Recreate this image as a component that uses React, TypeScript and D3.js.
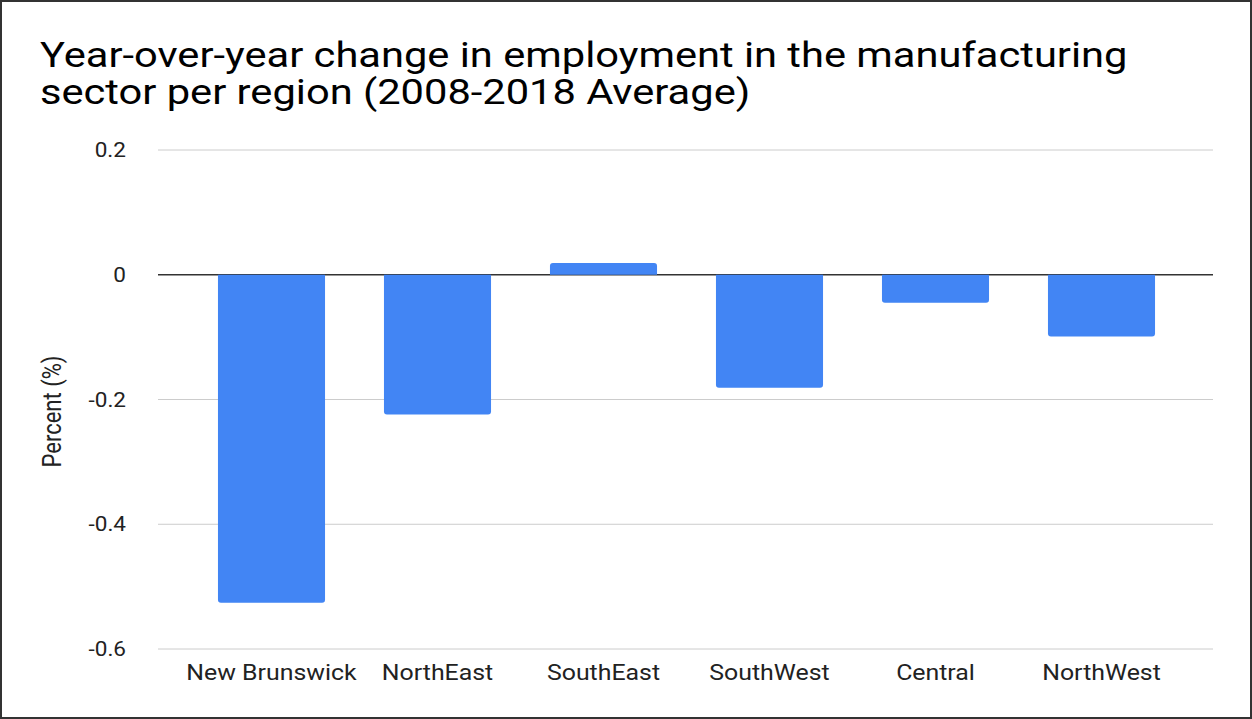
import React from "react";
import * as d3 from "d3";

const categories = ["New Brunswick", "NorthEast", "SouthEast", "SouthWest", "Central", "NorthWest"];
const values = [-0.526, -0.224, 0.019, -0.181, -0.045, -0.099];
const yTicks = [0.2, 0, -0.2, -0.4, -0.6];
const titleLines = [
  "Year-over-year change in employment in the manufacturing",
  "sector per region (2008-2018 Average)",
];
const yAxisTitle = "Percent (%)";

const W = 1252;
const H = 719;
const SX = 1.157; // horizontal stretch of the glyphs in the reference

function barPath(x: number, y0: number, y1: number, w: number, r: number) {
  const dir = y1 < y0 ? -1 : 1;
  const len = Math.abs(y1 - y0);
  const rr = Math.min(r, len / 2, w / 2);
  const p = d3.path();
  p.moveTo(x, y0);
  p.lineTo(x, y1 - dir * rr);
  p.quadraticCurveTo(x, y1, x + rr, y1);
  p.lineTo(x + w - rr, y1);
  p.quadraticCurveTo(x + w, y1, x + w, y1 - dir * rr);
  p.lineTo(x + w, y0);
  p.closePath();
  return p.toString();
}

const fmt = (t: number) => (t === 0 ? "0" : String(t));

export default function App() {
  const y = d3.scaleLinear().domain([-0.6, 0.2]).range([649, 150]);
  const x = d3
    .scaleBand<string>()
    .domain(categories)
    .range([188.5, 1184.5])
    .paddingInner(0.355)
    .paddingOuter(0.1775);
  const gridX0 = 158;
  const gridX1 = 1213;
  const font = "Roboto, 'Noto Sans', Arial, sans-serif";
  return (
    <svg
      width={W}
      height={H}
      style={{ position: "absolute", left: 0, top: 0, display: "block" }}
      fontFamily={font}
    >
      <rect x={0} y={0} width={W} height={H} fill="#fff" />
      <rect x={1} y={1} width={W - 2} height={H - 2} fill="none" stroke="#333" strokeWidth={2} />
      <text transform={`translate(40, 67) scale(${SX},1)`} fontSize={36} fill="#000">
        {titleLines.map((t, i) => (
          <tspan key={i} x={0} y={i * 37}>
            {t}
          </tspan>
        ))}
      </text>
      {yTicks.map((t) => (
        <line
          key={"g" + t}
          x1={gridX0}
          x2={gridX1}
          y1={y(t)}
          y2={y(t)}
          stroke={t === 0 ? "#333" : "#ccc"}
          strokeWidth={t === 0 ? 1.5 : 1}
        />
      ))}
      {yTicks.map((t) => (
        <text
          key={"t" + t}
          transform={`translate(126, ${y(t) + 7}) scale(${SX},1)`}
          textAnchor="end"
          fontSize={19.5}
          fill="#222"
        >
          {fmt(t)}
        </text>
      ))}
      {categories.map((c, i) => (
        <path
          key={c}
          d={barPath(x(c)!, y(0), y(values[i]), x.bandwidth(), 3)}
          fill="#4285F4"
        />
      ))}
      {categories.map((c) => (
        <text
          key={c}
          transform={`translate(${x(c)! + x.bandwidth() / 2}, 679.5) scale(${SX},1)`}
          textAnchor="middle"
          fontSize={21.5}
          fill="#222"
        >
          {c}
        </text>
      ))}
      <text
        transform={`translate(61, 411.5) scale(${SX},1) rotate(-90)`}
        textAnchor="middle"
        fontSize={22}
        fill="#222"
      >
        {yAxisTitle}
      </text>
    </svg>
  );
}
